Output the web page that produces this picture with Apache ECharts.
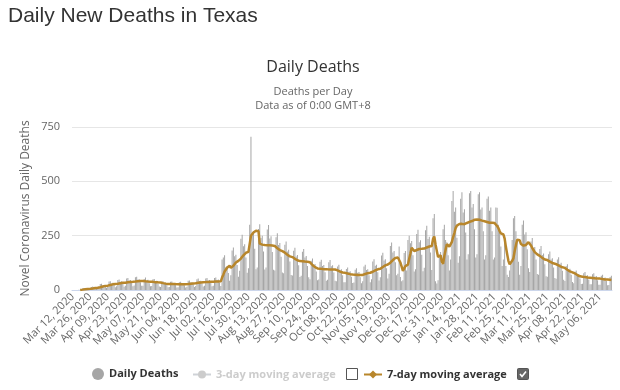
<!DOCTYPE html>
<html>
<head>
<meta charset="utf-8">
<script src="https://cdn.jsdelivr.net/npm/echarts@6/dist/echarts.min.js"></script>
<style>
html,body{margin:0;padding:0;background:#fff;}
#chart{width:620px;height:390px;}
</style>
</head>
<body>
<div id="chart"></div>
<script>
// ---- data ----
const startDate = [2020, 2, 12]; // Mar 12, 2020 (first category)
const dailyDeaths = [
  0,0,0,0,0,1,0,
  3,8,9,3,4,5,2,
  6,14,16,9,12,8,5,
  10,28,29,20,23,17,9,
  14,39,40,30,33,24,13,
  17,46,48,38,40,28,15,
  19,53,55,44,46,32,17,
  21,59,61,48,50,36,19,
  20,51,57,43,47,31,17,
  18,49,51,40,42,30,16,
  14,39,40,32,34,24,13,
  14,38,39,31,32,23,12,
  13,36,38,30,31,22,12,
  15,42,44,35,36,26,14,
  18,50,53,41,43,31,16,
  19,53,55,44,46,32,17,
  20,55,58,46,48,34,18,
  140,150,160,105,110,78,42,
  68,182,196,155,162,115,61,
  88,236,254,201,210,149,79,
  100,300,705,250,270,190,95,
  104,281,302,239,250,177,94,
  103,278,299,237,247,175,93,
  90,243,261,207,216,153,81,
  77,208,223,177,185,131,69,
  67,181,194,154,161,114,60,
  65,176,189,150,156,111,59,
  50,135,145,115,120,85,45,
  48,130,139,110,115,82,43,
  47,128,138,109,114,81,43,
  40,108,116,92,96,68,36,
  36,97,104,83,86,61,32,
  35,93,100,79,83,59,31,
  40,108,116,92,96,68,36,
  49,131,141,112,116,82,44,
  59,159,171,136,142,100,53,
  75,203,218,173,180,128,68,
  75,200,60,40,45,170,180,
  90,230,250,215,225,160,85,
  96,258,277,220,229,162,86,
  102,275,296,235,245,173,92,
  330,350,40,30,45,150,175,
  120,280,300,230,220,160,90,
  140,410,455,360,380,240,125,
  155,420,450,357,372,264,140,
  165,445,455,380,396,280,150,
  165,440,450,370,380,270,140,
  160,420,430,365,380,270,140,
  150,380,378,300,280,200,110,
  140,250,110,70,60,90,130,
  230,330,340,270,230,130,70,
  110,300,320,255,266,188,100,
  83,223,239,190,198,140,74,
  70,189,203,161,168,119,63,
  61,165,177,140,146,104,55,
  52,140,151,120,125,88,47,
  41,111,119,94,98,70,37,
  31,84,90,71,74,53,28,
  29,77,83,66,68,48,26,
  27,72,77,61,64,45,24,
  24,65,70,55,58,41,22,
  23,60,65
];
const yTicks = [0, 250, 500, 750];
const seriesNames = ['Daily Deaths', '3-day moving average', '7-day moving average'];
const titleText = 'Daily New Deaths in Texas';
const chartTitle = 'Daily Deaths';
const subTitle1 = 'Deaths per Day';
const subTitle2 = 'Data as of 0:00 GMT+8';
const yAxisName = 'Novel Coronavirus Daily Deaths';

// ---- derived ----
const MONTHS = ['Jan','Feb','Mar','Apr','May','Jun','Jul','Aug','Sep','Oct','Nov','Dec'];
const categories = dailyDeaths.map((_, i) => {
  const d = new Date(Date.UTC(startDate[0], startDate[1], startDate[2] + i));
  const dd = String(d.getUTCDate()).padStart(2, '0');
  return MONTHS[d.getUTCMonth()] + ' ' + dd + ', ' + d.getUTCFullYear();
});
function movingAvg(arr, n) {
  return arr.map((_, i) => {
    if (i < n - 1) return null;
    let s = 0;
    for (let k = i - n + 1; k <= i; k++) s += arr[k];
    return Math.round(s / n * 10) / 10;
  });
}
const ma3 = movingAvg(dailyDeaths, 3);
const ma7 = movingAvg(dailyDeaths, 7);

const chart = echarts.init(document.getElementById('chart'), null, {renderer: 'canvas'});
const font = 'Open Sans';
const legendText = {fontFamily: font, fontSize: 11, fontWeight: 'bold', color: '#333'};

chart.setOption({
  animation: false,
  title: [
    {text: titleText, left: 8, top: 6, padding: 0,
     textStyle: {fontFamily: 'Liberation Sans', fontSize: 21, fontWeight: 'normal', color: '#333'}},
    {text: chartTitle, left: 313, top: 59, padding: 0, textAlign: 'center',
     textStyle: {fontFamily: font, fontSize: 16, fontWeight: 'normal', color: '#333'}},
    {text: subTitle1, left: 313, top: 86, padding: 0, textAlign: 'center',
     textStyle: {fontFamily: font, fontSize: 11, fontWeight: 'normal', color: '#666'}},
    {text: subTitle2, left: 313, top: 100, padding: 0, textAlign: 'center',
     textStyle: {fontFamily: font, fontSize: 11, fontWeight: 'normal', color: '#666'}}
  ],
  grid: {left: 72, right: 8, top: 127, bottom: 100},
  legend: [
    {data: [seriesNames[0]], left: 92, top: 368, padding: 0, icon: 'circle', itemWidth: 12, itemHeight: 12,
     itemGap: 0, textStyle: legendText, inactiveColor: '#ccc'},
    {data: [seriesNames[1]], left: 192, top: 369, padding: 0, itemWidth: 18, itemHeight: 10,
     textStyle: legendText, inactiveColor: '#ccc',
     selected: {'3-day moving average': false}},
    {data: [seriesNames[2]], left: 363, top: 369, padding: 0, itemWidth: 18, itemHeight: 10,
     textStyle: legendText, inactiveColor: '#ccc'}
  ],
  xAxis: {
    type: 'category',
    data: categories,
    boundaryGap: true,
    axisLine: {show: true, lineStyle: {color: '#ccd6eb'}},
    axisTick: {show: false},
    axisLabel: {interval: 13, rotate: 45, fontFamily: font, fontSize: 11, color: '#666', margin: 5}
  },
  yAxis: {
    type: 'value',
    min: yTicks[0],
    max: yTicks[yTicks.length - 1],
    interval: yTicks[1] - yTicks[0],
    name: yAxisName,
    nameLocation: 'middle',
    nameRotate: 90,
    nameGap: 40,
    nameMoveOverlap: false,
    nameTextStyle: {fontFamily: font, fontSize: 12, color: '#666'},
    axisLine: {show: false},
    axisTick: {show: false},
    axisLabel: {fontFamily: font, fontSize: 11, color: '#666', margin: 12},
    splitLine: {lineStyle: {color: '#e6e6e6'}}
  },
  series: [
    {name: seriesNames[0], type: 'bar', data: dailyDeaths, barCategoryGap: '35%',
     itemStyle: {color: '#a6a6a6'}},
    {name: seriesNames[1], type: 'line', data: ma3, symbol: 'circle', showSymbol: false,
     lineStyle: {width: 2, color: '#aaa'}, itemStyle: {color: '#aaa'}},
    {name: seriesNames[2], type: 'line', data: ma7, symbol: 'diamond', symbolSize: 8, showSymbol: false,
     lineStyle: {width: 2.5, color: '#b8862b'}, itemStyle: {color: '#b8862b'}, z: 5}
  ],
  graphic: [
    {type: 'rect', left: 346, top: 368, shape: {width: 11, height: 11},
     style: {fill: '#fff', stroke: '#555', lineWidth: 1}},
    {type: 'group', left: 517, top: 368, children: [
      {type: 'rect', shape: {width: 11, height: 11, r: 1}, style: {fill: '#666', stroke: '#555', lineWidth: 1}},
      {type: 'polyline', shape: {points: [[2.5, 5.5], [4.5, 8], [8.5, 3]]},
       style: {stroke: '#fff', lineWidth: 1.6, fill: null}}
    ]}
  ]
});
</script>
</body>
</html>
